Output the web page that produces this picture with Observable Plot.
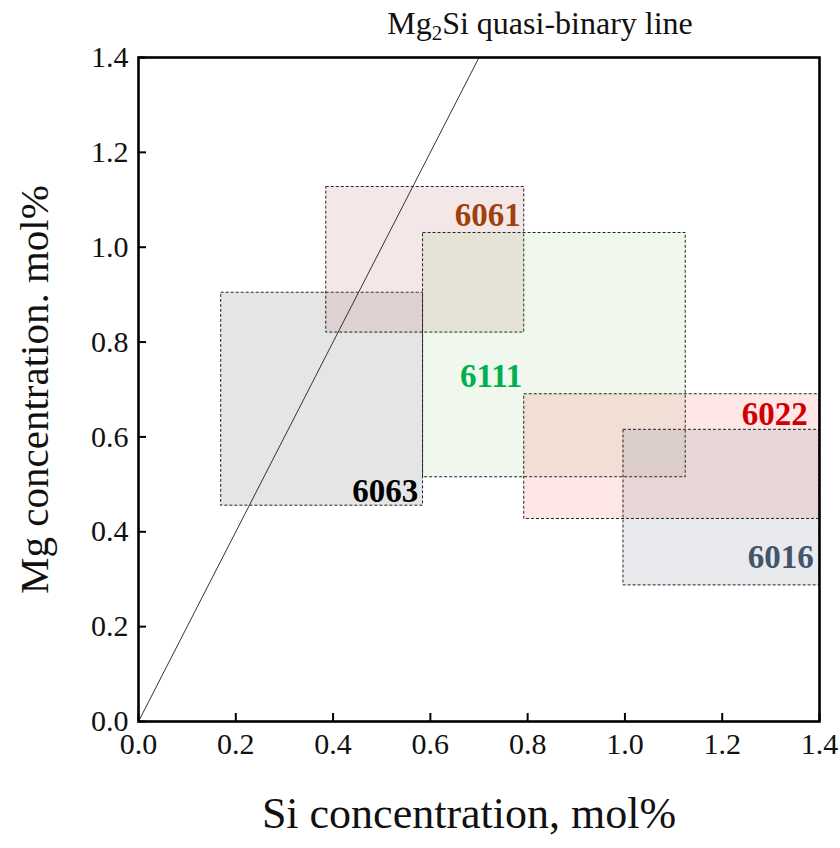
<!DOCTYPE html>
<html>
<head>
<meta charset="utf-8">
<script src="https://cdn.jsdelivr.net/npm/d3@7"></script>
<script src="https://cdn.jsdelivr.net/npm/@observablehq/plot@0.6"></script>
<style>
  body { margin: 0; background: #fff; }
  #wrap { position: relative; width: 840px; height: 848px; font-family: "Liberation Serif", "Times New Roman", serif; }
  #title { position: absolute; left: 0; width: 1080px; top: 5px; text-align: center; font-size: 32px; color: #111; white-space: nowrap; }
  #title sub { font-size: 21px; vertical-align: -6px; line-height: 0; }
  #chart { position: absolute; left: 0; top: 0; }
</style>
</head>
<body>
<div id="wrap">
  <div id="chart"></div>
  <div id="title">Mg<sub>2</sub>Si quasi-binary line</div>
</div>
<script>
// Alloy composition windows (mol%)
const alloys = ["6063", "6061", "6111", "6022", "6016"];
const siMin = [0.17, 0.386, 0.585, 0.793, 0.997];
const siMax = [0.585, 0.793, 1.125, 1.4, 1.4];
const mgMin = [0.455, 0.82, 0.515, 0.427, 0.287];
const mgMax = [0.904, 1.127, 1.03, 0.69, 0.615];
const fillColors = ["#7f7f7f", "#b5706b", "#70ad47", "#ff2020", "#44546a"];
const fillOps = [0.2, 0.16, 0.1, 0.11, 0.12];
const labelColors = ["#000000", "#a0410d", "#00b050", "#d00000", "#44546a"];
// label anchor positions (data units)
const labelX = [0.575, 0.786, 0.725, 1.376, 1.388];
const labelY = [0.486, 1.068, 0.728, 0.648, 0.346];
const labelAnchor = ["end", "end", "middle", "end", "end"];

// Mg2Si quasi-binary line (Mg:Si = 2:1)
const lineSi = [0, 0.7];
const lineMg = [0, 1.4];

const xTicks = [0, 0.2, 0.4, 0.6, 0.8, 1.0, 1.2, 1.4];
const yTicks = [0, 0.2, 0.4, 0.6, 0.8, 1.0, 1.2, 1.4];

const boxes = alloys.map((a, i) => ({
  alloy: a, x1: siMin[i], x2: siMax[i], y1: mgMin[i], y2: mgMax[i],
  fill: fillColors[i], op: fillOps[i], lc: labelColors[i],
  lx: labelX[i], ly: labelY[i], anchor: labelAnchor[i]
}));
const line = lineSi.map((s, i) => ({si: s, mg: lineMg[i]}));

const fmt = d3.format(".1f");
const serif = "'Liberation Serif', 'Times New Roman', serif";

const chart = Plot.plot({
  width: 840,
  height: 848,
  marginLeft: 138,
  marginRight: 21,
  marginTop: 57,
  marginBottom: 127,
  style: {fontFamily: serif, fontSize: "30px", background: "#fff", overflow: "visible"},
  x: {domain: [0, 1.4], ticks: xTicks, tickFormat: fmt},
  y: {domain: [0, 1.4], ticks: yTicks, tickFormat: fmt},
  marks: [
    ...boxes.map(b => Plot.rect([b], {
      x1: "x1", x2: "x2", y1: "y1", y2: "y2",
      fill: b.fill, fillOpacity: b.op,
      stroke: "#222", strokeWidth: 1, strokeDasharray: "3,2"
    })),
    Plot.line(line, {x: "si", y: "mg", stroke: "#333", strokeWidth: 1}),
    ...boxes.map(b => Plot.text([b], {
      x: "lx", y: "ly", text: "alloy", fill: b.lc,
      fontSize: 33, fontWeight: "bold", textAnchor: b.anchor
    })),
    Plot.axisX({ticks: xTicks, tickSize: -8, text: null, strokeWidth: 2, label: null}),
    Plot.axisY({ticks: yTicks, tickSize: -8, text: null, strokeWidth: 2, label: null}),
    Plot.axisX({ticks: xTicks, tickSize: 0, tickPadding: 11, tickFormat: fmt, fontSize: 30, fill: "#111", label: null}),
    Plot.axisY({ticks: yTicks, tickSize: 0, tickPadding: 10, tickFormat: fmt, fontSize: 30, fill: "#111", label: null}),
    Plot.frame({stroke: "#000", strokeWidth: 2.6}),
    Plot.text(["Si concentration, mol%"], {frameAnchor: "bottom", dy: 106, dx: -10, fontSize: 44, fill: "#111"}),
    Plot.text(["Mg concentration. mol%"], {frameAnchor: "left", dx: -104, rotate: -90, textAnchor: "middle", fontSize: 41, fill: "#111"})
  ]
});
document.getElementById("chart").appendChild(chart);
</script>
</body>
</html>
